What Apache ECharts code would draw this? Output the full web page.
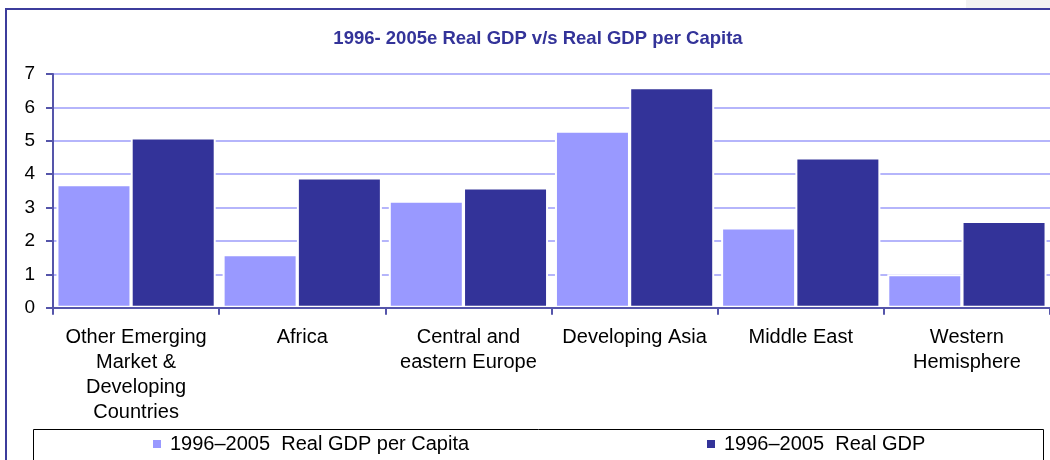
<!DOCTYPE html>
<html>
<head>
<meta charset="utf-8">
<script src="https://cdn.jsdelivr.net/npm/echarts@6/dist/echarts.min.js"></script>
<style>html,body{margin:0;padding:0;background:#fff;}#c{width:1050px;height:460px;}</style>
</head>
<body>
<div id="c"></div>
<script>
var categories = ['Other Emerging\nMarket &\nDeveloping\nCountries', 'Africa', 'Central and\neastern Europe', 'Developing Asia', 'Middle East', 'Western\nHemisphere'];
var perCapita = [3.7, 1.6, 3.2, 5.3, 2.4, 1.0];
var realGdp = [5.1, 3.9, 3.6, 6.6, 4.5, 2.6];
var yTicks = [0, 1, 2, 3, 4, 5, 6, 7];
var seriesNames = ['1996\u20132005  Real GDP per Capita', '1996\u20132005  Real GDP'];
var titleText = '1996- 2005e Real GDP v/s Real GDP per Capita';

var FONT = '"Liberation Sans", Arial, sans-serif';
var chart = echarts.init(document.getElementById('c'), null, {renderer: 'canvas'});
chart.setOption({
  backgroundColor: '#ffffff',
  animation: false,
  title: {
    text: titleText,
    left: 533,
    textAlign: 'center',
    top: 24,
    textStyle: {fontFamily: FONT, fontSize: 18.5, fontWeight: 'bold', color: '#333399'}
  },
  graphic: [
    {type: 'rect', shape: {x: 966, y: 0, width: 84, height: 8}, style: {fill: '#f2f2f2'}, z: -10},
    {type: 'rect', shape: {x: 6, y: 9, width: 1100, height: 500}, style: {fill: 'none', stroke: '#3c3c9c', lineWidth: 2}, z: -9},
    {type: 'rect', shape: {x: 33.5, y: 429.5, width: 1010, height: 40}, style: {fill: '#ffffff', stroke: '#000000', lineWidth: 1}, z: -8}
  ],
  legend: [
    {data: [seriesNames[0]], left: 148, top: 429, icon: 'rect', itemWidth: 8, itemHeight: 8,
     itemStyle: {borderWidth: 0},
     textStyle: {fontFamily: FONT, fontSize: 20, color: '#000', padding: [0, 0, 0, 4]}},
    {data: [seriesNames[1]], left: 702, top: 429, icon: 'rect', itemWidth: 8, itemHeight: 8,
     itemStyle: {borderWidth: 0},
     textStyle: {fontFamily: FONT, fontSize: 20, color: '#000', padding: [0, 0, 0, 4]}}
  ],
  grid: {left: 53, top: 74, width: 1002, height: 233.7, containLabel: false},
  xAxis: {
    type: 'category',
    data: categories,
    z: 5,
    axisLine: {lineStyle: {color: '#5555aa', width: 2}},
    axisTick: {show: true, length: 7, lineStyle: {color: '#5555aa', width: 2}},
    axisLabel: {fontFamily: FONT, fontSize: 20, color: '#000', lineHeight: 25, margin: 17, interval: 0}
  },
  yAxis: {
    type: 'value',
    min: yTicks[0],
    max: yTicks[yTicks.length - 1],
    interval: 1,
    axisLine: {show: true, lineStyle: {color: '#5555aa', width: 2}},
    axisTick: {show: true, length: 7, lineStyle: {color: '#5555aa', width: 2}},
    axisLabel: {fontFamily: FONT, fontSize: 19, color: '#000', margin: 18},
    splitLine: {show: true, lineStyle: {color: '#9d9dfa', width: 1.7}}
  },
  series: [
    {name: seriesNames[0], type: 'bar', data: perCapita, barWidth: 75, barGap: '-1%',
     itemStyle: {color: '#9999ff', borderColor: '#ffffff', borderWidth: 2}},
    {name: seriesNames[1], type: 'bar', data: realGdp, barWidth: 85,
     itemStyle: {color: '#333399', borderColor: '#ffffff', borderWidth: 2}}
  ]
});
</script>
</body>
</html>
